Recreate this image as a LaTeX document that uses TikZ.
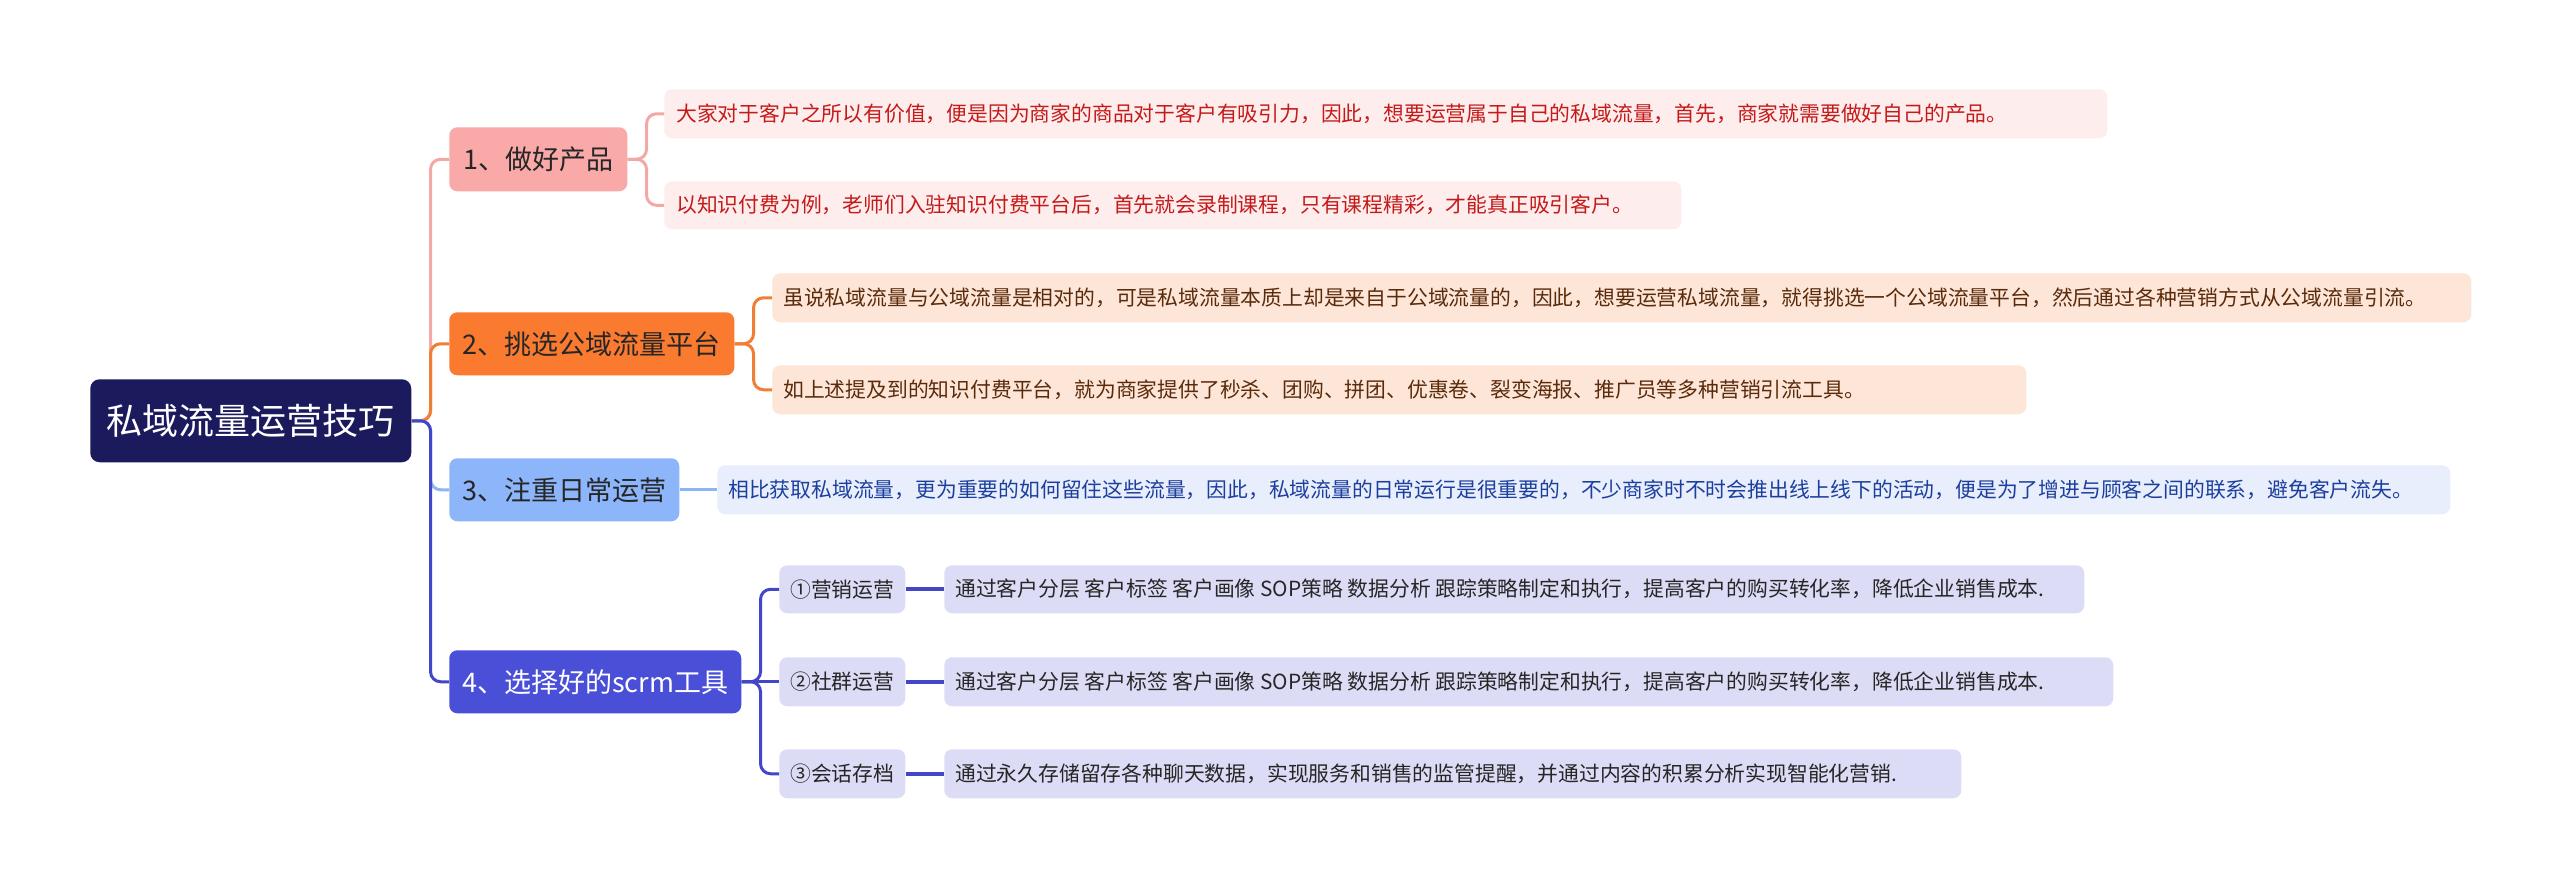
\documentclass[tikz,border=0pt]{standalone}
\usepackage{fontspec}
\setmainfont{Noto Sans CJK SC}
\newdimen\mmpx \mmpx=0.75pt
\definecolor{rootfill}{HTML}{1B1A5C}
\definecolor{aFill}{HTML}{F9AAA8}
\definecolor{aLine}{HTML}{F3A8A6}
\definecolor{aLeaf}{HTML}{FDEDEC}
\definecolor{aText}{HTML}{C41A1A}
\definecolor{bFill}{HTML}{FA7A30}
\definecolor{bLine}{HTML}{F07E35}
\definecolor{bLeaf}{HTML}{FDE6D8}
\definecolor{bText}{HTML}{5A2A0A}
\definecolor{cFill}{HTML}{8CB5FA}
\definecolor{cLine}{HTML}{8DB4F4}
\definecolor{cLeaf}{HTML}{E8EEFC}
\definecolor{cText}{HTML}{1C3F9E}
\definecolor{dFill}{HTML}{4A4FD8}
\definecolor{dLine}{HTML}{4347C7}
\definecolor{dLeaf}{HTML}{DCDCF6}
\definecolor{darktext}{HTML}{262626}
\newcommand\mmbox[8]{%
  \node[#2, anchor=north west, inner sep=0pt, minimum height=#6*0.75pt] (#1) at (#3,#4) {\makebox[#5\mmpx][#7]{#8}};%
}
\begin{document}
\begin{tikzpicture}[x=0.75pt,y=-0.75pt,
  rootbox/.style={fill=rootfill, rounded corners=7pt, text=white, font=\fontsize{27pt}{32pt}\selectfont},
  mainbox/.style={rounded corners=6pt, font=\fontsize{20.25pt}{24pt}\selectfont},
  leafbox/.style={rounded corners=6pt, font=\fontsize{15.6pt}{19pt}\selectfont},
  conn/.style={line width=2.25pt, rounded corners=7.5pt},
  thickconn/.style={line width=3pt, rounded corners=7.5pt}]
\useasboundingbox (0,0) rectangle (2560,887);
\fill[white] (0,0) rectangle (2560,887);

% root and main branches
\mmbox{root}{rootbox}{90}{379}{321}{83}{c}{私域流量运营技巧}
\mmbox{n1}{mainbox, fill=aFill, text=darktext}{449}{127}{178}{64}{c}{1、做好产品}
\mmbox{n2}{mainbox, fill=bFill, text=darktext}{449}{312}{285}{63}{c}{2、挑选公域流量平台}
\mmbox{n3}{mainbox, fill=cFill, text=darktext}{449}{458}{230}{63}{c}{3、注重日常运营}
\mmbox{n4}{mainbox, fill=dFill, text=white}{449}{650}{292}{63}{c}{4、选择好的scrm工具}

% leaves of branch 1
\mmbox{l1a}{leafbox, fill=aLeaf, text=aText}{664}{89}{1443}{49}{l}{\hspace{12\mmpx}大家对于客户之所以有价值，便是因为商家的商品对于客户有吸引力，因此，想要运营属于自己的私域流量，首先，商家就需要做好自己的产品。}
\mmbox{l1b}{leafbox, fill=aLeaf, text=aText}{664}{181}{1017}{48}{l}{\hspace{12\mmpx}以知识付费为例，老师们入驻知识付费平台后，首先就会录制课程，只有课程精彩，才能真正吸引客户。}

% leaves of branch 2
\mmbox{l2a}{leafbox, fill=bLeaf, text=bText}{772}{273}{1699}{49}{l}{\hspace{11\mmpx}虽说私域流量与公域流量是相对的，可是私域流量本质上却是来自于公域流量的，因此，想要运营私域流量，就得挑选一个公域流量平台，然后通过各种营销方式从公域流量引流。}
\mmbox{l2b}{leafbox, fill=bLeaf, text=bText}{772}{365}{1254}{49}{l}{\hspace{11\mmpx}如上述提及到的知识付费平台，就为商家提供了秒杀、团购、拼团、优惠卷、裂变海报、推广员等多种营销引流工具。}

% leaf of branch 3
\mmbox{l3}{leafbox, fill=cLeaf, text=cText}{717}{465}{1733}{49}{l}{\hspace{11\mmpx}相比获取私域流量，更为重要的如何留住这些流量，因此，私域流量的日常运行是很重要的，不少商家时不时会推出线上线下的活动，便是为了增进与顾客之间的联系，避免客户流失。}

% sub nodes of branch 4
\mmbox{s1}{leafbox, fill=dLeaf, text=darktext}{779}{565}{126}{48}{c}{①营销运营}
\mmbox{s2}{leafbox, fill=dLeaf, text=darktext}{779}{657}{126}{49}{c}{②社群运营}
\mmbox{s3}{leafbox, fill=dLeaf, text=darktext}{779}{749}{126}{49}{c}{③会话存档}
\mmbox{d1}{leafbox, fill=dLeaf, text=darktext}{944}{565}{1140}{48}{l}{\hspace{11\mmpx}通过客户分层 客户标签 客户画像 SOP策略 数据分析 跟踪策略制定和执行，提高客户的购买转化率，降低企业销售成本.}
\mmbox{d2}{leafbox, fill=dLeaf, text=darktext}{944}{657}{1169}{49}{l}{\hspace{11\mmpx}通过客户分层 客户标签 客户画像 SOP策略 数据分析 跟踪策略制定和执行，提高客户的购买转化率，降低企业销售成本.}
\mmbox{d3}{leafbox, fill=dLeaf, text=darktext}{944}{749}{1017}{49}{l}{\hspace{11\mmpx}通过永久存储留存各种聊天数据，实现服务和销售的监管提醒，并通过内容的积累分析实现智能化营销.}

% connectors from root
\draw[conn, aLine] (root.east) -- ++(19,0) |- (n1.west);
\draw[conn, bLine] (root.east) -- ++(19,0) |- (n2.west);
\draw[conn, cLine] (root.east) -- ++(19,0) |- (n3.west);
\draw[conn, dLine] (root.east) -- ++(19,0) |- (n4.west);

% branch 1
\draw[conn, aLine] (n1.east) -- ++(19,0) |- (l1a.west);
\draw[conn, aLine] (n1.east) -- ++(19,0) |- (l1b.west);
% branch 2
\draw[conn, bLine] (n2.east) -- ++(19,0) |- (l2a.west);
\draw[conn, bLine] (n2.east) -- ++(19,0) |- (l2b.west);
% branch 3
\draw[conn, cLine] (n3.east) -- (n3.east -| l3.west);
% branch 4
\draw[conn, dLine] (n4.east) -- ++(19,0) |- (s1.west);
\draw[conn, dLine] (n4.east) -- (s2.west);
\draw[conn, dLine] (n4.east) -- ++(19,0) |- (s3.west);
\draw[thickconn, dLine] (s1.east) -- (d1.west);
\draw[thickconn, dLine] (s2.east) -- (d2.west);
\draw[thickconn, dLine] (s3.east) -- (d3.west);
\end{tikzpicture}
\end{document}
